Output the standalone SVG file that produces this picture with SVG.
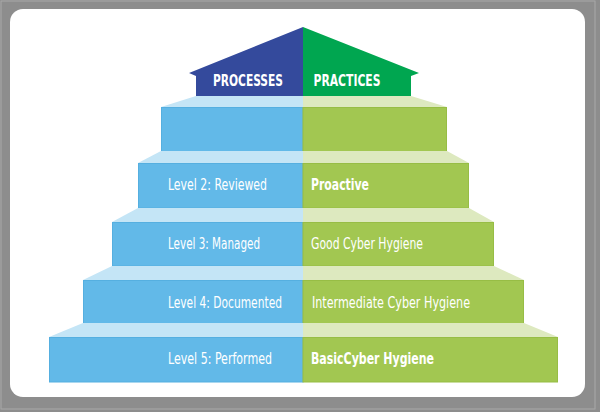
<svg xmlns="http://www.w3.org/2000/svg" width="600" height="412" viewBox="0 0 600 412">
  <style>
    .bf { fill: #62b9e8; stroke: #55afe0; stroke-width: 1; }
    .gf { fill: #a2c751; stroke: #97bd45; stroke-width: 1; }
    .bl { fill: #c4e5f6; }
    .gl { fill: #dde9bf; }
    .t { font-family: "Liberation Sans Narrow", "DejaVu Sans Condensed", "Liberation Sans", sans-serif; fill: #ffffff; font-size: 15px; }
    .r { font-size: 16px; }
    .b { font-weight: bold; }
  </style>
  <rect x="0" y="0" width="600" height="412" fill="#8d8d8d"/>
  <rect x="1" y="1" width="594" height="408" fill="none" stroke="#a9a9a9" stroke-width="1"/>
  <rect x="10" y="9" width="575" height="388" rx="13" ry="13" fill="#ffffff"/>

  <g id="roof">
    <polygon points="303,27 189,73 196,76 196,96 303,96" fill="#344a9c"/>
    <polygon points="303,27 419,73 411,76 411,96 303,96" fill="#00a650"/>
    <text class="t r b" x="248" y="86" text-anchor="middle" textLength="70" lengthAdjust="spacingAndGlyphs">PROCESSES</text>
    <text class="t r b" x="347" y="86" text-anchor="middle" textLength="67" lengthAdjust="spacingAndGlyphs">PRACTICES</text>
  </g>

  <g id="step1">
    <polygon class="bl" points="196,96 303,96 303,107 161,107"/>
    <polygon class="gl" points="303,96 411,96 447,107 303,107"/>
    <rect class="bf" x="161.5" y="107.5" width="141.5" height="44"/>
    <rect class="gf" x="303" y="107.5" width="143.5" height="44"/>
  </g>

  <g id="step2">
    <polygon class="bl" points="161,151 303,151 303,163 138,163"/>
    <polygon class="gl" points="303,151 447,151 469,163 303,163"/>
    <rect class="bf" x="138.5" y="163.5" width="164.5" height="44.5"/>
    <rect class="gf" x="303" y="163.5" width="165.5" height="44.5"/>
    <text class="t" x="168" y="190" textLength="99" lengthAdjust="spacingAndGlyphs">Level  2: Reviewed</text>
    <text class="t b" x="311" y="190" textLength="58" lengthAdjust="spacingAndGlyphs">Proactive</text>
  </g>

  <g id="step3">
    <polygon class="bl" points="138,208 303,208 303,222 112,222"/>
    <polygon class="gl" points="303,208 469,208 494,222 303,222"/>
    <rect class="bf" x="112.5" y="222.5" width="190.5" height="43.5"/>
    <rect class="gf" x="303" y="222.5" width="190.5" height="43.5"/>
    <text class="t" x="168" y="249" textLength="92" lengthAdjust="spacingAndGlyphs">Level  3: Managed</text>
    <text class="t" x="311" y="249" textLength="112" lengthAdjust="spacingAndGlyphs">Good Cyber Hygiene</text>
  </g>

  <g id="step4">
    <polygon class="bl" points="112,266 303,266 303,280 83,280"/>
    <polygon class="gl" points="303,266 494,266 524,280 303,280"/>
    <rect class="bf" x="83.5" y="280.5" width="219.5" height="43"/>
    <rect class="gf" x="303" y="280.5" width="220.5" height="43"/>
    <text class="t" x="168" y="308" textLength="114" lengthAdjust="spacingAndGlyphs">Level  4: Documented</text>
    <text class="t" x="312" y="308" textLength="158" lengthAdjust="spacingAndGlyphs">Intermediate  Cyber  Hygiene</text>
  </g>

  <g id="step5">
    <polygon class="bl" points="83,323 303,323 303,337 49,337"/>
    <polygon class="gl" points="303,323 524,323 558,337 303,337"/>
    <rect class="bf" x="49.5" y="337.5" width="253.5" height="44.5"/>
    <rect class="gf" x="303" y="337.5" width="254.5" height="44.5"/>
    <text class="t" x="168" y="364" textLength="104" lengthAdjust="spacingAndGlyphs">Level  5: Performed</text>
    <text class="t b" x="311" y="364" textLength="123" lengthAdjust="spacingAndGlyphs">BasicCyber Hygiene</text>
  </g>
</svg>
